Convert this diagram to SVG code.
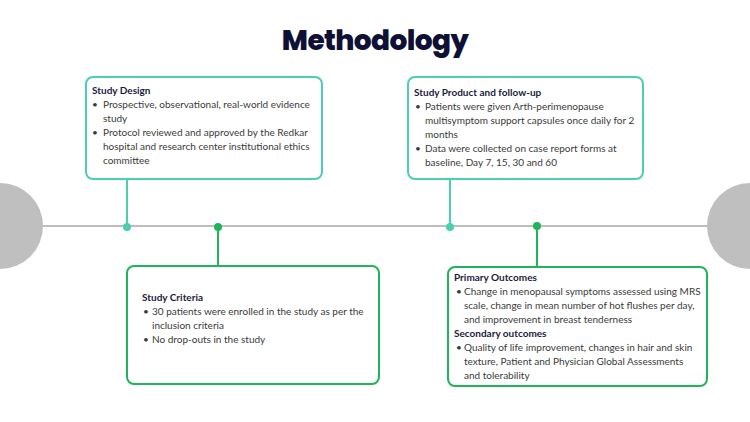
<svg xmlns="http://www.w3.org/2000/svg" width="750" height="422" viewBox="0 0 750 422">
<style>
.title{font-family:Poppins,Inter,"Liberation Sans",sans-serif;font-weight:800;font-size:28px;fill:#0f1035;letter-spacing:-0.6px}
.h{font-family:Lato,"Liberation Sans",sans-serif;font-weight:bold;font-size:10px;fill:#1c1c3c}
.t{font-family:Lato,"Liberation Sans",sans-serif;font-size:10px;fill:#3a3a3a}
.tb{fill:none;stroke:#4ccfb0;stroke-width:2}
.gb{fill:none;stroke:#20b55a;stroke-width:2}
.tl{stroke:#4ccfb0;stroke-width:2}
.gl{stroke:#20b55a;stroke-width:2}
</style>
<rect width="750" height="422" fill="#ffffff"/>
<text class="title" x="375" y="50" text-anchor="middle">Methodology</text>
<g id="timeline">
<circle cx="0" cy="226" r="43" fill="#bfbfbf"/>
<circle cx="750" cy="226" r="43" fill="#bfbfbf"/>
<line x1="43" y1="226" x2="707" y2="226" stroke="#bdbdbd" stroke-width="2"/>
</g>
<g id="connectors">
<line class="tl" x1="127" y1="179" x2="127" y2="227"/>
<circle cx="127" cy="227" r="4" fill="#4ccfb0"/>
<line class="tl" x1="450" y1="179" x2="450" y2="227"/>
<circle cx="450" cy="227" r="4" fill="#4ccfb0"/>
<line class="gl" x1="218" y1="227" x2="218" y2="266"/>
<circle cx="218" cy="227" r="4" fill="#20b55a"/>
<line class="gl" x1="537" y1="226" x2="537" y2="267"/>
<circle cx="537" cy="226" r="4" fill="#20b55a"/>
</g>
<g id="study-design">
<rect class="tb" x="86" y="77" width="236" height="102" rx="7"/>
<text class="h" x="92" y="94">Study Design</text>
<text class="t" x="92" y="108">•</text>
<text class="t" x="103" y="108">Prospective, observational, real-world evidence</text>
<text class="t" x="103" y="122">study</text>
<text class="t" x="92" y="136">•</text>
<text class="t" x="103" y="136">Protocol reviewed and approved by the Redkar</text>
<text class="t" x="103" y="150">hospital and research center institutional ethics</text>
<text class="t" x="103" y="164">committee</text>
</g>
<g id="study-product">
<rect class="tb" x="408" y="77" width="235" height="102" rx="7"/>
<text class="h" x="414" y="96">Study Product and follow-up</text>
<text class="t" x="415" y="110">•</text>
<text class="t" x="425" y="110">Patients were given Arth-perimenopause</text>
<text class="t" x="425" y="124">multisymptom support capsules once daily for 2</text>
<text class="t" x="425" y="138">months</text>
<text class="t" x="415" y="152">•</text>
<text class="t" x="425" y="152">Data were collected on case report forms at</text>
<text class="t" x="425" y="166">baseline, Day 7, 15, 30 and 60</text>
</g>
<g id="study-criteria">
<rect class="gb" x="127" y="266" width="252" height="118" rx="7"/>
<text class="h" x="142" y="301">Study Criteria</text>
<text class="t" x="143" y="315">•</text>
<text class="t" x="152" y="315">30 patients were enrolled in the study as per the</text>
<text class="t" x="152" y="329">inclusion criteria</text>
<text class="t" x="143" y="343">•</text>
<text class="t" x="152" y="343">No drop-outs in the study</text>
</g>
<g id="outcomes">
<rect class="gb" x="448" y="267" width="259" height="119" rx="7"/>
<text class="h" x="454" y="281">Primary Outcomes</text>
<text class="t" x="456" y="295">•</text>
<text class="t" x="464" y="295">Change in menopausal symptoms assessed using MRS</text>
<text class="t" x="464" y="309">scale, change in mean number of hot flushes per day,</text>
<text class="t" x="464" y="323">and improvement in breast tenderness</text>
<text class="h" x="454" y="337">Secondary outcomes</text>
<text class="t" x="456" y="351">•</text>
<text class="t" x="464" y="351">Quality of life improvement, changes in hair and skin</text>
<text class="t" x="464" y="365">texture, Patient and Physician Global Assessments</text>
<text class="t" x="464" y="379">and tolerability</text>
</g>
</svg>
